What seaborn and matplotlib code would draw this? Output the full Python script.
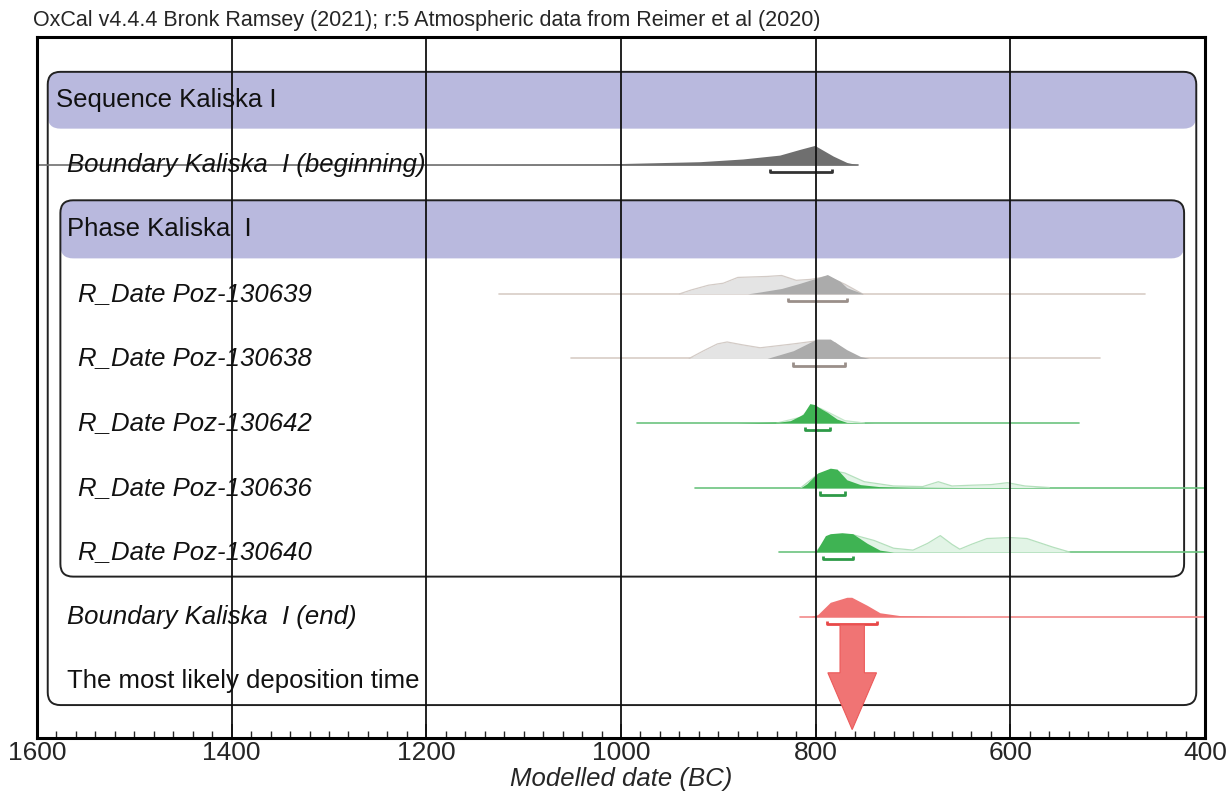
import numpy as np
import matplotlib
matplotlib.use("Agg")
import matplotlib.pyplot as plt
import seaborn as sns
from matplotlib.patches import FancyBboxPatch, FancyArrow
from matplotlib.ticker import MultipleLocator

# row labels, top to bottom
labels = [
    "Sequence Kaliska I",
    "Boundary Kaliska  I (beginning)",
    "Phase Kaliska  I",
    "R_Date Poz-130639",
    "R_Date Poz-130638",
    "R_Date Poz-130642",
    "R_Date Poz-130636",
    "R_Date Poz-130640",
    "Boundary Kaliska  I (end)",
    "The most likely deposition time",
]

# distributions (years BC, relative density)
begin_years = [1600, 1150, 1022, 919, 875, 837, 816, 801, 782, 768, 757]
begin_dens = [0, 0.01, 0.04, 0.16, 0.3, 0.5, 0.8, 1.0, 0.45, 0.12, 0]

prior639_years = [940, 928, 910, 895, 880, 850, 835, 820, 805, 788, 770, 752]
prior639_dens = [0, 0.2, 0.45, 0.55, 0.85, 0.9, 0.95, 0.7, 0.75, 0.9, 0.5, 0]
post639_years = [870, 857, 835, 816, 800, 788, 775, 768, 751]
post639_dens = [0, 0.1, 0.28, 0.55, 0.8, 1.0, 0.65, 0.32, 0]

prior638_years = [930, 915, 901, 891, 875, 857, 840, 823, 800, 780, 760]
prior638_dens = [0, 0.4, 0.75, 0.85, 0.7, 0.55, 0.65, 0.75, 0.9, 0.8, 0]
post638_years = [850, 823, 809, 799, 785, 768, 754, 745]
post638_dens = [0, 0.4, 0.75, 1.0, 1.0, 0.45, 0.1, 0]

prior642_years = [840, 815, 805, 795, 785, 770, 750]
prior642_dens = [0, 0.3, 0.8, 0.75, 0.5, 0.12, 0]
post642_years = [880, 837, 826, 813, 806, 801, 795, 788, 778, 768, 740]
post642_dens = [0, 0.05, 0.12, 0.45, 1.0, 0.95, 0.75, 0.55, 0.2, 0.03, 0]

prior636_years = [815, 800, 785, 770, 750, 720, 690, 674, 660, 640, 620, 603, 585, 560]
prior636_dens = [0, 0.6, 0.9, 0.75, 0.3, 0.08, 0.05, 0.3, 0.08, 0.12, 0.15, 0.25, 0.08, 0]
post636_years = [815, 809, 798, 785, 778, 768, 754, 735, 703, 650]
post636_dens = [0, 0.2, 0.75, 1.0, 0.95, 0.4, 0.15, 0.05, 0.02, 0]

prior640_years = [800, 785, 762, 740, 720, 700, 685, 672, 660, 652, 640, 624, 600, 583, 556, 539]
prior640_dens = [0, 0.85, 0.9, 0.6, 0.2, 0.1, 0.45, 0.85, 0.4, 0.15, 0.4, 0.7, 0.75, 0.7, 0.25, 0]
post640_years = [800, 790, 785, 773, 762, 747, 734, 720]
post640_dens = [0, 0.85, 0.95, 1.0, 0.95, 0.45, 0.1, 0]

end_years = [805, 798, 785, 768, 763, 747, 734, 713, 680, 631]
end_dens = [0, 0.1, 0.74, 1.0, 1.0, 0.58, 0.2, 0.05, 0.02, 0]

# 95.4% ranges (from, to) and extent of the thin base line
ranges = {1: (847, 783), 3: (828, 768), 4: (823, 770), 5: (811, 785),
          6: (796, 770), 7: (792, 762), 8: (788, 737)}
spans = {1: (1600, 757), 3: (1125, 462), 4: (1051, 508), 5: (984, 529),
         6: (924, 400), 7: (838, 400), 8: (816, 400)}

sns.set_theme(style="white")
plt.rcParams["font.family"] = ["Liberation Sans", "DejaVu Sans"]

fig = plt.figure(figsize=(12.3, 7.92), dpi=100)
ax = fig.add_axes([0.0301, 0.0682, 0.9496, 0.8851])
ax.set_xlim(1600, 400)
ax.set_ylim(9.88, -0.98)

AMP = 0.30
GRAY_DARK = "#6f6f6f"
GRAY = "#ababab"
GRAY_LIGHT = "#e4e4e4"
GREEN = "#3fb353"
GREEN_LIGHT = "#e2f4e6"
RED = "#f07474"
BAND = "#b9b9de"

asp = 0.01507  # row units per year, for round corners


def box(x0, x1, y0, y1, **kw):
    p = FancyBboxPatch((x1, y0), x0 - x1, y1 - y0,
                       boxstyle="round,pad=0,rounding_size=13",
                       mutation_aspect=asp, **kw)
    ax.add_patch(p)


# sequence and phase boxes with header bands
box(1589, 409, -0.44, 9.37, facecolor="none", edgecolor="#222222", lw=1.4, zorder=2)
box(1589, 409, -0.44, 0.44, facecolor=BAND, edgecolor="none", zorder=1)
box(1576, 421.5, 1.55, 7.38, facecolor="none", edgecolor="#222222", lw=1.4, zorder=2)
box(1576, 421.5, 1.55, 2.45, facecolor=BAND, edgecolor="none", zorder=1)


def dist(row, years, dens, color, alpha=1.0, edge=None):
    y = row - np.array(dens) * AMP
    ax.fill_between(years, y, row, color=color, lw=0, alpha=alpha, zorder=3)
    if edge is not None:
        sns.lineplot(x=years, y=y, color=edge, lw=0.9, ax=ax, zorder=3,
                     sort=False, estimator=None)


# base lines
base_colors = {1: "#6f6f6f", 3: "#d8cdc6", 4: "#d8cdc6", 5: "#6cc47f",
               6: "#6cc47f", 7: "#6cc47f", 8: "#f28a8a"}
for row, (a, b) in spans.items():
    ax.plot([a, b], [row, row], color=base_colors[row], lw=1.2, zorder=3)

dist(1, begin_years, begin_dens, GRAY_DARK)
dist(3, prior639_years, prior639_dens, GRAY_LIGHT, edge="#d3cbc6")
dist(3, post639_years, post639_dens, GRAY)
dist(4, prior638_years, prior638_dens, GRAY_LIGHT, edge="#d3cbc6")
dist(4, post638_years, post638_dens, GRAY)
dist(5, prior642_years, prior642_dens, GREEN_LIGHT, edge="#c4e7ca")
dist(5, post642_years, post642_dens, GREEN)
dist(6, prior636_years, prior636_dens, GREEN_LIGHT, edge="#b5e0bd")
dist(6, post636_years, post636_dens, GREEN)
dist(7, prior640_years, prior640_dens, GREEN_LIGHT, edge="#b5e0bd")
dist(7, post640_years, post640_dens, GREEN)
dist(8, end_years, end_dens, RED)

# range brackets
bracket_colors = {1: "#333333", 3: "#9a8f8a", 4: "#9a8f8a", 5: "#2e9a48",
                  6: "#2e9a48", 7: "#2e9a48", 8: "#e84848"}
for row, (a, b) in ranges.items():
    yb = row + 0.11
    ax.plot([a, a, b, b], [yb - 0.05, yb, yb, yb - 0.05],
            color=bracket_colors[row], lw=2, zorder=4, solid_capstyle="butt")

# arrow pointing to the most likely deposition time
mid = (ranges[8][0] + ranges[8][1]) / 2
ax.add_patch(FancyArrow(mid, 8.13, 0, 1.62, width=25, head_width=50,
                        head_length=0.88, length_includes_head=True,
                        facecolor=RED, edgecolor="#ec5a5a", lw=0.8, zorder=5))

# labels
indent = {0: 1581, 1: 1569, 2: 1569, 8: 1569, 9: 1569}
for row, text in enumerate(labels):
    x = indent.get(row, 1558)
    italic = text.startswith(("Boundary", "R_Date"))
    ax.text(x, row, text, fontsize=18.5, va="center", ha="left",
            style="italic" if italic else "normal", color="#111111", zorder=4)

# grid, ticks and frame
for g in [1400, 1200, 1000, 800, 600]:
    ax.axvline(g, color="#111111", lw=1.3, zorder=6)

ax.xaxis.set_major_locator(MultipleLocator(200))
ax.xaxis.set_minor_locator(MultipleLocator(20))
ax.tick_params(axis="x", which="major", direction="in", length=10, width=1.3,
               labelsize=19, pad=2, bottom=True, top=False)
ax.tick_params(axis="x", which="minor", direction="in", length=5, width=1,
               bottom=True, top=False)
ax.set_yticks([])
for s in ax.spines.values():
    s.set_linewidth(2.2)
    s.set_color("black")
    s.set_zorder(7)

fig.text(0.505, 0.017, "Modelled date (BC)", fontsize=18.5, style="italic",
         ha="center", va="center")
fig.text(0.027, 0.974, "OxCal v4.4.4 Bronk Ramsey (2021); r:5 Atmospheric data from Reimer et al (2020)",
         fontsize=15.5, va="center", ha="left")

plt.savefig("out.png", dpi=100)
